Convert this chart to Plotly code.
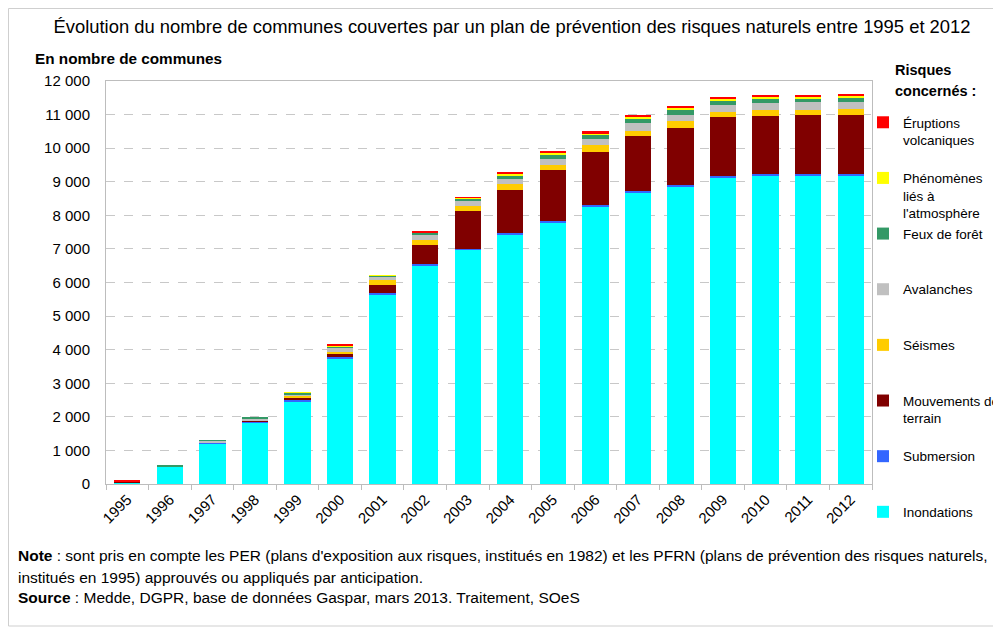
import plotly.graph_objects as go

years = [str(y) for y in range(1995, 2013)]

inondations = [50, 520, 1210, 1825, 2470, 3740, 5650, 6520, 6970, 7435, 7790, 8270, 8665, 8855, 9135, 9200, 9180, 9180]
submersion = [5, 5, 30, 10, 30, 30, 30, 30, 30, 40, 30, 40, 50, 60, 50, 30, 50, 50]
mouvements = [20, 5, 5, 60, 90, 115, 260, 575, 1120, 1290, 1520, 1590, 1650, 1700, 1740, 1720, 1750, 1750]
seismes = [3, 0, 0, 10, 40, 60, 120, 150, 150, 160, 160, 180, 160, 190, 160, 190, 160, 190]
avalanches = [5, 0, 45, 40, 40, 120, 110, 150, 150, 170, 170, 190, 210, 180, 210, 200, 220, 190]
feux = [3, 15, 5, 40, 50, 40, 30, 50, 80, 105, 150, 140, 140, 160, 130, 150, 130, 160]
phenomenes = [2, 0, 0, 0, 5, 15, 20, 15, 20, 40, 40, 40, 40, 40, 50, 40, 40, 40]
eruptions = [3, 0, 0, 0, 0, 20, 0, 20, 20, 50, 50, 50, 60, 60, 50, 60, 60, 60]

series_names = [
    "Inondations<br> <br> ",
    "Submersion<br> <br> ",
    "Mouvements de<br>terrain<br> ",
    "Séismes<br> <br> ",
    "Avalanches<br> <br> ",
    "Feux de forêt<br> <br> ",
    "Phénomènes<br>liés à<br>l'atmosphère",
    "Éruptions<br>volcaniques<br> ",
]
series_values = [inondations, submersion, mouvements, seismes, avalanches, feux, phenomenes, eruptions]
series_colors = ["#00FFFF", "#3366FF", "#800000", "#FFCC00", "#C0C0C0", "#339966", "#FFFF00", "#FF0000"]

FONT = "Liberation Sans, Arial, sans-serif"

fig = go.Figure()
for name, vals, col in zip(series_names, series_values, series_colors):
    fig.add_trace(go.Bar(
        x=years, y=vals, name=name, marker=dict(color=col, line=dict(width=0)),
    ))

# page offset (body margin) and plot area in screen pixels: x 106..872, y 81..484
OFF = 8
W, H = 1001, 629
SL, SR, ST, SB = 106, 872, 81, 484
L, R, T, B = SL - OFF, SR - OFF, ST - OFF, SB - OFF

def px(x):
    return (x - SL) / (SR - SL)
def py(y):
    return (SB - y) / (SB - ST)

fig.update_layout(
    width=W, height=H,
    margin=dict(l=L, r=W - R, t=T, b=H - B, autoexpand=False),
    paper_bgcolor="white", plot_bgcolor="white",
    barmode="stack", bargap=0.38,
    separators=", ",
    font=dict(family=FONT, size=14, color="#000000"),
    title=dict(
        text="Évolution du nombre de communes couvertes par un plan de prévention des risques naturels entre 1995 et 2012",
        x=(512 - OFF) / W, xanchor="center", xref="container",
        y=1 - (27 - OFF) / H, yanchor="middle", yref="container",
        font=dict(family=FONT, size=18.4, color="#000000"),
    ),
    legend=dict(
        xref="container", yref="container",
        x=(863 - OFF) / W, xanchor="left", y=1 - (107 - OFF) / H, yanchor="top",
        traceorder="reversed", tracegroupgap=0,
        valign="top", maxheight=600,
        font=dict(family=FONT, size=13.5, color="#000000"),
        bgcolor="rgba(0,0,0,0)",
    ),
    xaxis=dict(
        type="category", tickangle=-45, showline=True, linecolor="#BDBDBD", linewidth=1,
        mirror=True, ticks="outside", tickson="boundaries", tickcolor="#BDBDBD", ticklen=5,
        tickfont=dict(family=FONT, size=15), showgrid=False, automargin=False,
    ),
    yaxis=dict(
        range=[0, 12000], dtick=1000, tickformat=",d", showline=True, linecolor="#BDBDBD",
        linewidth=1, mirror=True, showgrid=True, gridcolor="#C8C8C8", griddash="dash",
        gridwidth=1, ticks="outside", ticklen=0, ticklabelstandoff=12,
        tickfont=dict(family=FONT, size=15), zeroline=False, automargin=False,
    ),
)

fig.add_shape(type="rect", xref="paper", yref="paper",
              x0=px(OFF + 0.5), x1=px(1012), y0=py(626), y1=py(OFF + 0.5),
              line=dict(color="#CFCFCF", width=1), fillcolor="rgba(0,0,0,0)", layer="below")

fig.add_annotation(text="<b>En nombre de communes</b>", xref="paper", yref="paper",
                   x=px(33), y=py(58), xanchor="left", yanchor="middle", showarrow=False,
                   font=dict(family=FONT, size=15.3))

for txt, yy in [("<b>Risques</b>", 70), ("<b>concernés :</b>", 91)]:
    fig.add_annotation(text=txt, xref="paper", yref="paper",
                       x=px(893), y=py(yy), xanchor="left", yanchor="middle", showarrow=False,
                       font=dict(family=FONT, size=14.5))

notes = [
    ("<b>Note</b> : sont pris en compte les PER (plans d'exposition aux risques, institués en 1982) et les PFRN (plans de prévention des risques naturels,", 555),
    ("institués en 1995) approuvés ou appliqués par anticipation.", 577),
    ("<b>Source</b> : Medde, DGPR, base de données Gaspar, mars 2013. Traitement, SOeS", 597),
]
for txt, yy in notes:
    fig.add_annotation(text=txt, xref="paper", yref="paper", x=px(16), y=py(yy),
                       xanchor="left", yanchor="middle", showarrow=False,
                       font=dict(family=FONT, size=15.5))

fig.write_html("out.html")
